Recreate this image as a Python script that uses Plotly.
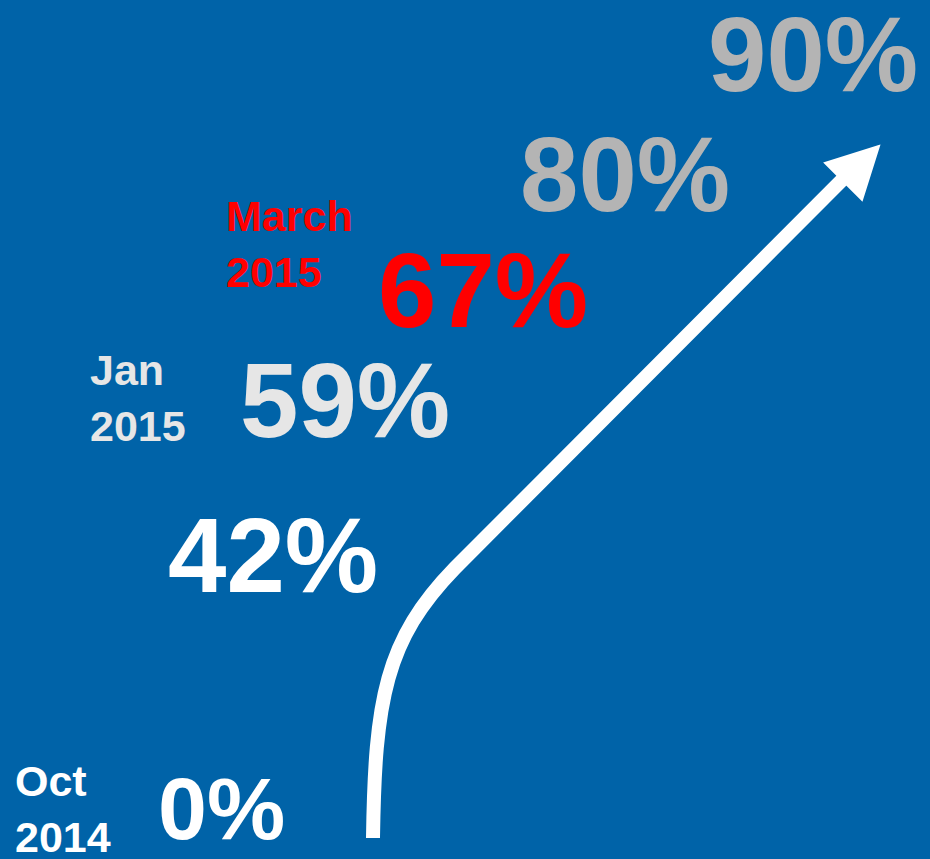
import plotly.graph_objects as go

# Data
values = [0, 42, 59, 67, 80, 90]
date_labels = ["Oct<br>2014", "", "Jan<br>2015", "March<br>2015", "", ""]
colors = ["#FFFFFF", "#FFFFFF", "#E6E6E6", "#FF0000", "#B4B4B4", "#B4B4B4"]

# Layout positions (pixel space)
pct_x = [156, 166, 238, 376, 518, 706]
pct_y = [808, 555, 400, 290, 174, 54]
date_x = [13, None, 88, 224, None, None]
date_y = [809, None, 398, 244, None, None]
pct_size = [88, 105, 105, 105, 105, 105]

W, H = 930, 859
fig = go.Figure()
fig.add_trace(go.Scatter(x=[0, W], y=[0, H], mode="markers",
                         marker=dict(opacity=0), hoverinfo="skip", showlegend=False))

for i, v in enumerate(values):
    fig.add_annotation(x=pct_x[i], y=pct_y[i], xref="x", yref="y",
                       text=f"<b>{v}%</b>", showarrow=False, xanchor="left", yanchor="middle",
                       font=dict(family="Liberation Sans", size=pct_size[i], color=colors[i]))
    if date_labels[i]:
        fig.add_annotation(x=date_x[i], y=date_y[i], xref="x", yref="y",
                           text=f"<b>{date_labels[i]}</b>", showarrow=False,
                           xanchor="left", yanchor="middle", align="left",
                           font=dict(family="Liberation Sans", size=43, color=colors[i]))

# Arrow
fig.add_shape(type="path", xref="x", yref="y",
              path="M 373,838 C 375,700 385,640 455,568 L 850,172",
              line=dict(color="white", width=14), fillcolor="rgba(0,0,0,0)")
fig.add_shape(type="path", xref="x", yref="y",
              path="M 879,146 L 825,163 L 862,200 Z",
              line=dict(color="white", width=2), fillcolor="white")

fig.update_xaxes(range=[0, W], visible=False, fixedrange=True)
fig.update_yaxes(range=[H, 0], visible=False, fixedrange=True)
fig.update_layout(width=W, height=H, margin=dict(l=0, r=0, t=0, b=0),
                  paper_bgcolor="#0063A8", plot_bgcolor="#0063A8")
fig.write_html("out.html", config={"displayModeBar": False},
               post_script="document.body.style.margin='0';document.body.style.overflow='hidden';document.body.style.background='#0063A8';")
